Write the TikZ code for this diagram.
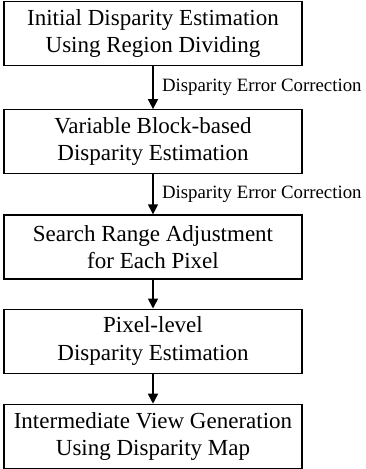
\documentclass[tikz,border=0pt]{standalone}
\usepackage{fontspec}
\setmainfont{Liberation Serif}
\usepackage{tikz}
\usetikzlibrary{positioning}
\usetikzlibrary{arrows.meta}
\tikzstyle{arrow} = [line width=1.6pt,-{Triangle[length=10pt,width=10pt]}]
\tikzstyle{stage} = [draw, line width=1.2pt, minimum width=298pt, minimum height=64pt, align=center, inner sep=2pt, font=\fontsize{23}{27.5}\selectfont]
\tikzstyle{note} = [right=5pt, font=\fontsize{18.8}{20}\selectfont]

\begin{document}
\begin{tikzpicture}[x=1pt,y=1pt]
	%Frame
	\useasboundingbox (0,0) rectangle (366,-469);
	
	%Stages
	\node [stage] (initEst) at (153,-33.5) {Initial Disparity Estimation\\Using Region Dividing};
	\node [stage, below=43pt of initEst] (blockEst) {Variable Block-based\\Disparity Estimation};
	\node [stage, below=40pt of blockEst] (rangeAdj) {Search Range Adjustment\\for Each Pixel};
	\node [stage, below=29pt of rangeAdj] (pixelEst) {Pixel-level\\Disparity Estimation};
	\node [stage, below=30pt of pixelEst] (viewGen) {Intermediate View Generation\\Using Disparity Map};
	
	%Arrows
	\draw[arrow] (initEst) -- node[note] {Disparity Error Correction} (blockEst);
	\draw[arrow] (blockEst) -- node[note] {Disparity Error Correction} (rangeAdj);
	\draw[arrow] (rangeAdj) -- (pixelEst);
	\draw[arrow] (pixelEst) -- (viewGen);
\end{tikzpicture}
\end{document}
